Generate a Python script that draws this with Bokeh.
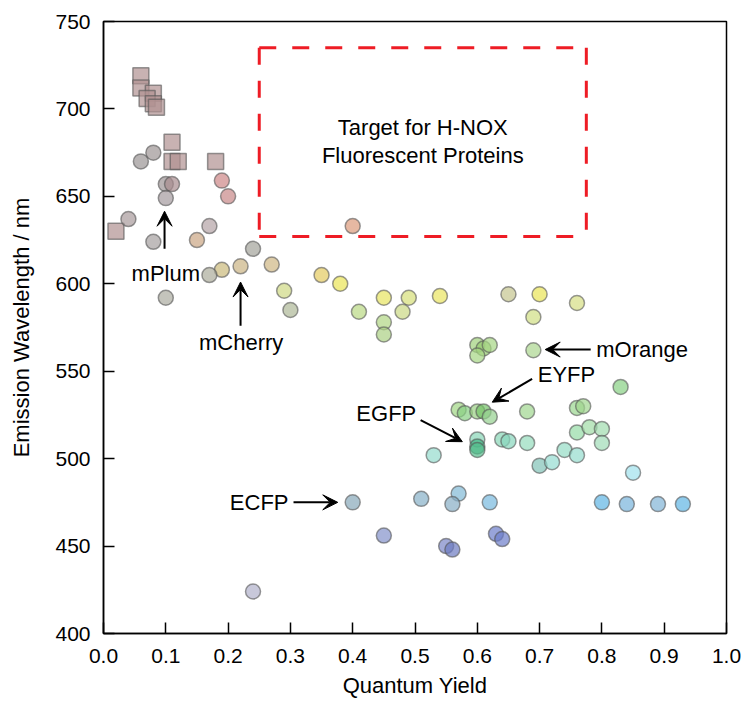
from bokeh.plotting import figure
from bokeh.models import Arrow, VeeHead, Label, FixedTicker, PrintfTickFormatter, ColumnDataSource
from bokeh.embed import file_html
from bokeh.resources import INLINE

# ---------------- data ----------------
circle_qy = [0.06, 0.08, 0.10, 0.11, 0.10, 0.19, 0.20, 0.04, 0.08, 0.15,
             0.17, 0.24, 0.27, 0.22, 0.19, 0.17, 0.10, 0.29, 0.30, 0.35,
             0.38, 0.40, 0.41, 0.45, 0.45, 0.45, 0.49, 0.48, 0.54, 0.65,
             0.70, 0.76, 0.69, 0.60, 0.61, 0.62, 0.60, 0.69, 0.83, 0.57,
             0.58, 0.60, 0.61, 0.62, 0.68, 0.76, 0.77, 0.76, 0.78, 0.80,
             0.80, 0.60, 0.60, 0.60, 0.64, 0.65, 0.68, 0.53, 0.70, 0.72,
             0.74, 0.76, 0.85, 0.40, 0.51, 0.57, 0.56, 0.62, 0.80, 0.84,
             0.89, 0.93, 0.45, 0.55, 0.56, 0.63, 0.64, 0.24]
circle_wl = [670, 675, 657, 657, 649, 659, 650, 637, 624, 625,
             633, 620, 611, 610, 608, 605, 592, 596, 585, 605,
             600, 633, 584, 592, 578, 571, 592, 584, 593, 594,
             594, 589, 581, 565, 563, 565, 559, 562, 541, 528,
             526, 527, 527, 524, 527, 529, 530, 515, 518, 517,
             509, 511, 507, 505, 511, 510, 509, 502, 496, 498,
             505, 502, 492, 475, 477, 480, 474, 475, 475, 474,
             474, 474, 456, 450, 448, 457, 454, 424]
circle_colors = ["#b8b4b4", "#bab4b4", "#bbb4b5", "#c2aeb0", "#bfb8bb", "#dcaaaa", "#d8acac", "#c2b8b9", "#c0bcbc", "#dac0a8",
                 "#cabec0", "#bebeb8", "#ddcca8", "#dacaa8", "#dacea2", "#c4c4b8", "#c4c4bc", "#dde4a8", "#c6cdb6", "#ecda90",
                 "#f0ec88", "#e6b8a2", "#cee4a8", "#eeec90", "#c8e2a8", "#c4dea8", "#e2e8a0", "#dae4a8", "#f0ec90", "#d6d6b0",
                 "#f0ec88", "#e2e8a8", "#dee8a8", "#bcdea2", "#b4da9a", "#c0e2a8", "#c0e2a8", "#c4e2b0", "#acdea8", "#bce2a8",
                 "#acdea8", "#b8dea8", "#9ed494", "#b4deb0", "#bce2b0", "#b8e2b0", "#bce2b0", "#b4e6c0", "#bce6c0", "#bce6c6",
                 "#bce6cc", "#ace2cc", "#78cca8", "#88d0ae", "#ace2cc", "#ace2d0", "#b4e6d0", "#b4e6dc", "#a6d4cc", "#b4e6de",
                 "#b4e6d6", "#b4e6dc", "#bceaf2", "#acc2ce", "#acc8d8", "#a6cee2", "#acc6d6", "#a0cee8", "#90cbec", "#a0cae6",
                 "#a6cae2", "#90cbec", "#a8b2da", "#a2aad8", "#98a2d4", "#98a4da", "#98a4da", "#c8c8da"]

square_qy = [0.06, 0.06, 0.08, 0.07, 0.08, 0.085, 0.11, 0.11, 0.12, 0.18, 0.02]
square_wl = [719, 712, 709, 706, 703, 701, 681, 670, 670, 670, 630]
square_color = "#c8b2b2"

x_ticks = [0.0, 0.1, 0.2, 0.3, 0.4, 0.5, 0.6, 0.7, 0.8, 0.9, 1.0]
y_ticks = [400, 450, 500, 550, 600, 650, 700, 750]

target_qy = (0.25, 0.775)
target_wl = (627, 735)
target_text = ["Target for H-NOX", "Fluorescent Proteins"]

ALPHA = 0.7
FONT = "Liberation Sans"


def base_color(hexcol, a=ALPHA):
    h = hexcol.lstrip("#")
    rgb = [int(h[i:i + 2], 16) for i in (0, 2, 4)]
    out = [max(0, min(255, round((c - 255 * (1 - a)) / a))) for c in rgb]
    return "#%02x%02x%02x" % tuple(out)


p = figure(frame_width=623, frame_height=612, x_range=(0, 1), y_range=(400, 750),
           output_backend="svg", toolbar_location=None,
           min_border_left=103, min_border_right=17, min_border_top=21, min_border_bottom=66)
p.background_fill_color = "white"
p.border_fill_color = "white"
p.xgrid.visible = False
p.ygrid.visible = False
p.outline_line_color = "black"
p.outline_line_width = 1.5

for ax in (p.xaxis[0], p.yaxis[0]):
    ax.major_tick_in = 11
    ax.major_tick_out = 0
    ax.minor_tick_in = 0
    ax.minor_tick_out = 0
    ax.axis_line_color = "black"
    ax.axis_line_width = 1.5
    ax.major_tick_line_width = 1.5
    ax.major_tick_line_color = "black"
    ax.major_label_text_font = FONT
    ax.major_label_text_font_size = "21px"
    ax.major_label_text_color = "black"
    ax.axis_label_text_font = FONT
    ax.axis_label_text_font_size = "22px"
    ax.axis_label_text_font_style = "normal"
    ax.axis_label_text_color = "black"

p.xaxis.ticker = FixedTicker(ticks=x_ticks)
p.yaxis.ticker = FixedTicker(ticks=y_ticks)
p.xaxis.formatter = PrintfTickFormatter(format="%.1f")
p.yaxis.formatter = PrintfTickFormatter(format="%d")
p.xaxis.axis_label = "Quantum Yield"
p.yaxis.axis_label = "Emission Wavelength / nm"
p.xaxis.major_label_standoff = 15
p.xaxis.axis_label_standoff = 7
p.yaxis.major_label_standoff = 13
p.yaxis.axis_label_standoff = 18

# target box (dashed red)
tx0, tx1 = target_qy
ty0, ty1 = target_wl
box_style = dict(line_color="#ee1c25", line_width=3, line_dash="17 16")
p.line([tx0, tx1], [ty1, ty1], **box_style)
p.line([tx0, tx1], [ty0, ty0], **box_style)
p.line([tx0, tx0], [ty1, ty0], **box_style)
p.line([tx1, tx1], [ty1, ty0], **box_style)

tmid = (tx0 + tx1) / 2
p.add_layout(Label(x=tmid, y=689.5, text=target_text[0], text_align="center", text_baseline="middle",
                   text_font=FONT, text_font_size="22px", text_color="black"))
p.add_layout(Label(x=tmid, y=673.6, text=target_text[1], text_align="center", text_baseline="middle",
                   text_font=FONT, text_font_size="22px", text_color="black"))

# squares
sq = ColumnDataSource(dict(x=square_qy, y=square_wl))
p.scatter("x", "y", source=sq, marker="square", size=16,
          fill_color=base_color(square_color), fill_alpha=ALPHA,
          line_color="#555555", line_alpha=0.6, line_width=1.5)

# circles
cs = ColumnDataSource(dict(x=circle_qy, y=circle_wl, c=[base_color(c) for c in circle_colors]))
p.scatter("x", "y", source=cs, marker="circle", size=15,
          fill_color="c", fill_alpha=ALPHA,
          line_color="#555555", line_alpha=0.6, line_width=1.5)

# annotations with arrows
def arrow(x0, y0, x1, y1):
    p.add_layout(Arrow(end=VeeHead(size=15, fill_color="black", line_color="black", line_width=1),
                       x_start=x0, y_start=y0, x_end=x1, y_end=y1,
                       line_color="black", line_width=2))

def label(x, y, t, align):
    p.add_layout(Label(x=x, y=y, text=t, text_align=align, text_baseline="middle",
                       text_font=FONT, text_font_size="22px", text_color="black"))

arrow(0.098, 620, 0.098, 641.5)
label(0.100, 605.6, "mPlum", "center")
arrow(0.220, 576, 0.220, 601)
label(0.221, 566.6, "mCherry", "center")
arrow(0.782, 562.4, 0.709, 562.4)
label(0.791, 562.4, "mOrange", "left")
arrow(0.688, 545.6, 0.624, 532.3)
label(0.697, 547.9, "EYFP", "left")
arrow(0.509, 522.0, 0.576, 509.7)
label(0.502, 525.6, "EGFP", "right")
arrow(0.305, 475, 0.376, 475)
label(0.297, 475, "ECFP", "right")

open("out.html", "w").write(file_html(p, INLINE))
